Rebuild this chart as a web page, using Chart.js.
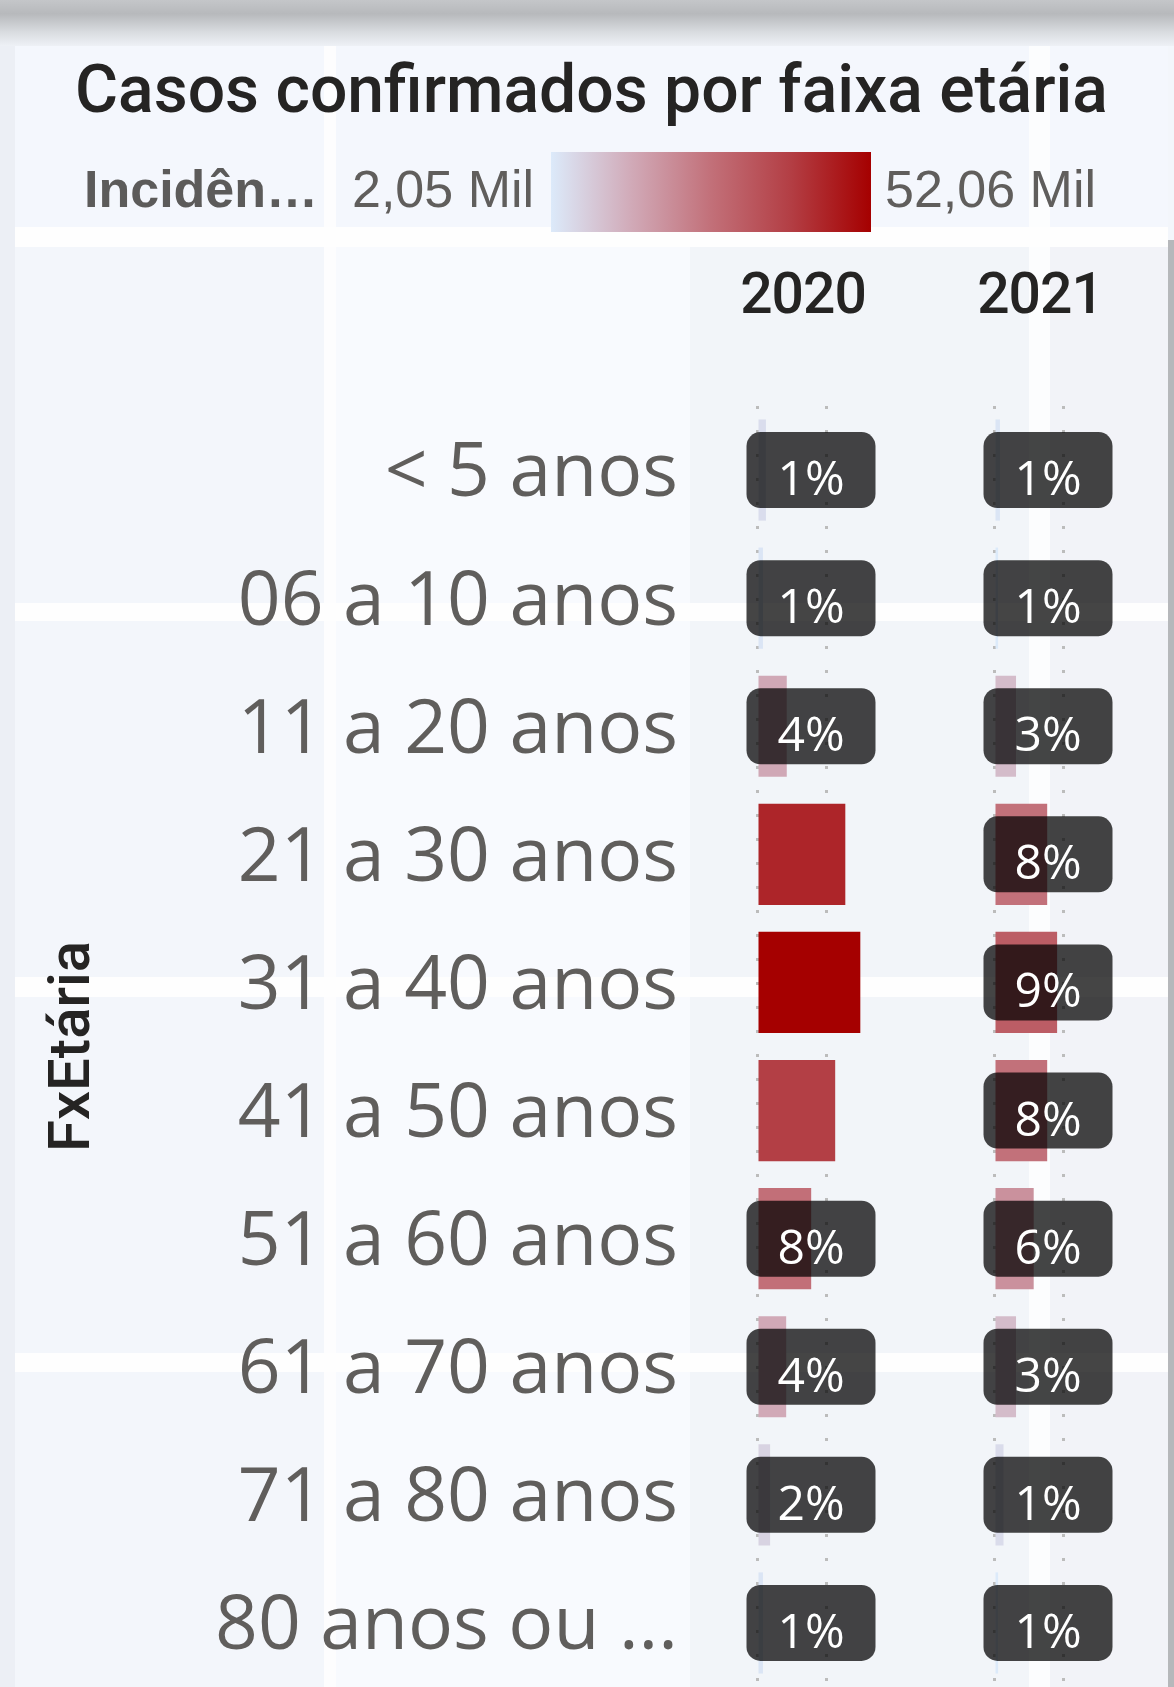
<!DOCTYPE html>
<html>
<head>
<meta charset="utf-8">
<script src="https://cdn.jsdelivr.net/npm/chart.js"></script>
<style>
body { margin: 0; width: 1174px; height: 1687px; position: relative; overflow: hidden; background: #f3f6fb; }
.bg { position: absolute; }
.txt { position: absolute; white-space: nowrap; line-height: 1; }
canvas { position: absolute; }
</style>
</head>
<body>
<!-- washed-out report background -->
<div class="bg" style="left:0;top:0;width:1174px;height:46px;background:linear-gradient(#c4c6c9,#b7b9bc 30%,#d9dce0 70%,#eef1f6)"></div>
<div class="bg" style="left:0;top:46px;width:15px;height:1641px;background:#eceff5"></div>
<div class="bg" style="left:15px;top:46px;width:1153px;height:181px;background:#f4f7fd"></div>
<div class="bg" style="left:336px;top:247px;width:354px;height:1440px;background:#f8fafe"></div>
<div class="bg" style="left:690px;top:247px;width:339px;height:1440px;background:#f2f5f9"></div>
<div class="bg" style="left:1050px;top:247px;width:118px;height:1440px;background:#f2f3f8"></div>
<div class="bg" style="left:324px;top:46px;width:12px;height:1641px;background:#fdfdfe"></div>
<div class="bg" style="left:1029px;top:46px;width:21px;height:1641px;background:#fcfdfe"></div>
<div class="bg" style="left:15px;top:227px;width:1153px;height:20px;background:#fefefe"></div>
<div class="bg" style="left:15px;top:603px;width:1153px;height:18px;background:#fefefe"></div>
<div class="bg" style="left:15px;top:977px;width:1153px;height:20px;background:#fefefe"></div>
<div class="bg" style="left:15px;top:1353px;width:1153px;height:19px;background:#fefefe"></div>
<div class="bg" style="left:1168px;top:240px;width:6px;height:1447px;background:#b6b8bb"></div>

<div class="txt" style="left:75px;top:51px;font:500 66px Roboto;color:#252423">Casos confirmados por faixa etária</div>
<div class="txt" style="left:84px;top:159px;font:bold 52px 'Liberation Sans';color:#5c5b5a">Incidên…</div>
<div class="txt" id="legMin" style="left:352px;top:159px;font:52px 'Liberation Sans';color:#605e5c"></div>
<div class="bg" id="grad" style="left:551px;top:152px;width:320px;height:80px"></div>
<div class="txt" id="legMax" style="left:885px;top:159px;font:52px 'Liberation Sans';color:#605e5c"></div>
<div class="txt" id="h2020" style="top:260px;width:200px;text-align:center;font:500 57px Roboto;letter-spacing:-1px;color:#252423"></div>
<div class="txt" id="h2021" style="top:260px;width:200px;text-align:center;font:500 57px Roboto;letter-spacing:-1px;color:#252423"></div>

<canvas id="chart2020" width="940" height="1309" style="left:0;top:378px"></canvas>
<canvas id="chart2021" width="228" height="1309" style="left:940px;top:378px"></canvas>

<script>
// age groups and confirmed cases (thousands) per year
const categories = ["< 5 anos", "06 a 10 anos", "11 a 20 anos", "21 a 30 anos", "31 a 40 anos",
                    "41 a 50 anos", "51 a 60 anos", "61 a 70 anos", "71 a 80 anos", "80 anos ou ..."];
const years = ["2020", "2021"];
const cases2020 = [4.5, 3.0, 15.0, 44.5, 52.06, 39.4, 27.3, 14.7, 6.6, 3.0];
const cases2021 = [3.0, 2.05, 11.1, 26.8, 31.8, 26.8, 20.0, 11.1, 4.8, 2.05];
// Power BI hid some labels in 2020
const hidden2020 = [false, false, false, true, true, true, false, false, false, false];
const hidden2021 = [false, false, false, false, false, false, false, false, false, false];
const xTicks = [0, 35];
const legendMin = 2.05, legendMax = 52.06;
const gradientStops = [[0, '#dceafa'], [0.25, '#d1aab8'], [0.5, '#c27079'], [0.75, '#b33e44'], [1, '#a50000']];

const totalCases = cases2020.concat(cases2021).reduce((a, b) => a + b, 0);

function hexToRgb(h) {
    return [1, 3, 5].map(i => parseInt(h.substr(i, 2), 16));
}

function colorFor(v) {
    const t = Math.min(1, Math.max(0, (v - legendMin) / (legendMax - legendMin)));
    for (let i = 1; i < gradientStops.length; i++) {
        const [t0, c0] = gradientStops[i - 1];
        const [t1, c1] = gradientStops[i];
        if (t <= t1) {
            const f = (t - t0) / (t1 - t0);
            const a = hexToRgb(c0), b = hexToRgb(c1);
            return 'rgb(' + a.map((x, k) => Math.round(x + (b[k] - x) * f)).join(',') + ')';
        }
    }
    return gradientStops[gradientStops.length - 1][1];
}

const fmtMil = v => v.toFixed(2).replace('.', ',') + ' Mil';
document.getElementById('legMin').textContent = fmtMil(legendMin);
document.getElementById('legMax').textContent = fmtMil(legendMax);
document.getElementById('grad').style.background = 'linear-gradient(to right,' +
    gradientStops.map(s => s[1] + ' ' + (s[0] * 100) + '%').join(',') + ')';

// dark rounded boxes with the share of all cases
const pctLabels = {
    id: 'pctLabels',
    afterDatasetsDraw(chart, args, opts) {
        const ctx = chart.ctx;
        const x0 = chart.scales.x.getPixelForValue(0);
        const values = chart.data.datasets[0].data;
        chart.getDatasetMeta(0).data.forEach((bar, i) => {
            if (opts.hidden[i]) return;
            const text = Math.round(values[i] / totalCases * 100) + '%';
            const w = 129, h = 76, cx = x0 + 54, cy = bar.y;
            ctx.save();
            ctx.fillStyle = 'rgba(0,0,0,0.73)';
            ctx.beginPath();
            ctx.roundRect(cx - w / 2, cy - h / 2, w, h, 14);
            ctx.fill();
            ctx.fillStyle = '#ffffff';
            ctx.font = '48px "Open Sans"';
            ctx.textAlign = 'center';
            ctx.textBaseline = 'alphabetic';
            ctx.fillText(text, cx, cy + 25);
            ctx.restore();
        });
    }
};

const xScale = {
    min: 0,
    max: 65,
    afterBuildTicks: s => { s.ticks = xTicks.map(v => ({ value: v })); },
    ticks: { display: false },
    grid: { color: '#bcbcbc', lineWidth: 3, drawTicks: false },
    border: { display: false, dash: [3, 21] }
};

function makeChart(id, values, hidden, showAxis, padding) {
    return new Chart(id, {
        type: 'bar',
        data: {
            labels: categories,
            datasets: [{
                data: values,
                backgroundColor: values.map(colorFor),
                barPercentage: 0.79,
                categoryPercentage: 1
            }]
        },
        options: {
            indexAxis: 'y',
            responsive: false,
            animation: false,
            layout: { padding: padding },
            plugins: {
                legend: { display: false },
                tooltip: { enabled: false },
                pctLabels: { hidden: hidden }
            },
            scales: {
                x: xScale,
                y: showAxis ? {
                    ticks: { color: '#605e5c', font: { family: 'Open Sans', size: 75 }, padding: 79, labelOffset: 5 },
                    grid: { display: false, drawTicks: false },
                    border: { display: false },
                    title: {
                        display: true,
                        text: 'FxEtária',
                        color: '#252423',
                        font: { family: 'Roboto', size: 58, weight: '500' },
                        padding: { top: 40, bottom: 0 }
                    },
                    afterFit: s => { s.width = 757; s.paddingTop = 0; s.paddingBottom = 0; }
                } : { display: false }
            }
        },
        plugins: [pctLabels]
    });
}

const c2020 = makeChart('chart2020', cases2020, hidden2020, true, { top: 28, bottom: 0, right: 54 });
const c2021 = makeChart('chart2021', cases2021, hidden2021, false, { top: 28, bottom: 0, left: 54, right: 45 });

// year headers over each panel
[[c2020, 0, 'h2020'], [c2021, 940, 'h2021']].forEach(([c, off, id], k) => {
    const el = document.getElementById(id);
    el.textContent = years[k];
    el.style.left = (off + c.chartArea.left + 46 - 100) + 'px';
});
</script>
</body>
</html>
